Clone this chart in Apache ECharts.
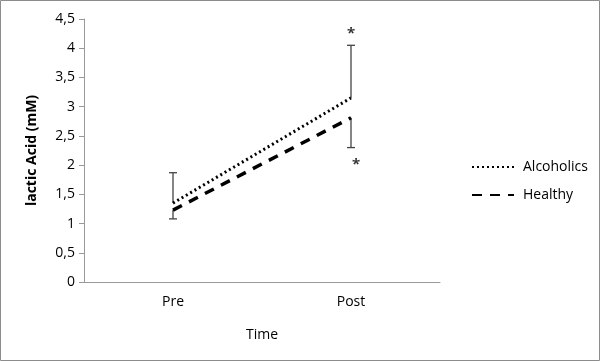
<!DOCTYPE html>
<html>
<head>
<meta charset="utf-8">
<script src="https://cdn.jsdelivr.net/npm/echarts@6/dist/echarts.min.js"></script>
<style>html,body{margin:0;padding:0;background:#fff}#main{width:600px;height:361px}</style>
</head>
<body>
<div id="main"></div>
<script>
// data
var categories = ['Pre', 'Post'];
var alcoholics = [1.35, 3.15];
var healthy = [1.23, 2.81];
// error bars: [category index, from (mean), to (end with cap)]
var alcErr = [[0, 1.35, 1.87], [1, 3.15, 4.05]];
var heaErr = [[0, 1.23, 1.08], [1, 2.81, 2.30]];
var stars = [[1, 4.31], [1, 2.09]];

var myChart = echarts.init(document.getElementById('main'));

function errBar(color) {
	return function (params, api) {
		var p1 = api.coord([api.value(0), api.value(1)]);
		var p2 = api.coord([api.value(0), api.value(2)]);
		return {
			type: 'group',
			children: [{
				type: 'line',
				shape: { x1: p1[0], y1: p1[1], x2: p2[0], y2: p2[1] },
				style: { stroke: color, lineWidth: 1.3 }
			}, {
				type: 'line',
				shape: { x1: p2[0] - 4, y1: p2[1], x2: p2[0] + 4, y2: p2[1] },
				style: { stroke: color, lineWidth: 1.3 }
			}]
		};
	};
}

var font = '"Open Sans", "DejaVu Sans", sans-serif';

var option = {
	animation: false,
	textStyle: { fontFamily: font },
	graphic: [{
		type: 'rect',
		shape: { x: 0.5, y: 0.5, width: 599, height: 360 },
		style: { fill: 'none', stroke: '#8c8c8c', lineWidth: 1 }
	}],
	grid: { left: 84, right: 160, top: 19, bottom: 79 },
	legend: {
		orient: 'vertical',
		left: 466,
		top: 155,
		itemWidth: 42,
		itemHeight: 10,
		itemGap: 14,
		itemStyle: { opacity: 0 },
		textStyle: { fontSize: 14, color: '#000', fontFamily: font, padding: [0, 0, 0, 4] },
		data: ['Alcoholics', 'Healthy']
	},
	xAxis: {
		type: 'category',
		data: categories,
		name: 'Time',
		nameLocation: 'middle',
		nameGap: 46,
		nameTextStyle: { fontSize: 14, color: '#000' },
		axisLine: { lineStyle: { color: '#999' } },
		axisTick: { show: false },
		axisLabel: { fontSize: 14, color: '#000', margin: 13 }
	},
	yAxis: {
		type: 'value',
		min: 0,
		max: 4.5,
		interval: 0.5,
		name: 'lactic Acid (mM)',
		nameLocation: 'middle',
		nameGap: 45,
		nameTextStyle: { fontSize: 14, fontWeight: 'bold', color: '#000' },
		axisLine: { show: true, lineStyle: { color: '#999' } },
		axisTick: { show: true, length: 5, lineStyle: { color: '#999' } },
		splitLine: { show: false },
		axisLabel: {
			fontSize: 14, color: '#000', margin: 9,
			formatter: function (v) { return String(v).replace('.', ','); }
		}
	},
	series: [{
		name: 'Alcoholics',
		type: 'line',
		data: alcoholics,
		symbol: 'none',
		lineStyle: { color: '#000', width: 3, type: [2, 3] },
		itemStyle: { color: '#000' }
	}, {
		name: 'Healthy',
		type: 'line',
		data: healthy,
		symbol: 'none',
		lineStyle: { color: '#000', width: 3.5, type: [10, 8] },
		itemStyle: { color: '#000' }
	}, {
		type: 'custom',
		renderItem: errBar('#444'),
		data: alcErr,
		z: 3
	}, {
		type: 'custom',
		renderItem: errBar('#444'),
		data: heaErr,
		z: 3
	}, {
		type: 'scatter',
		data: [
			{ value: stars[0], label: { offset: [0, 4] } },
			{ value: stars[1], label: { offset: [5, 5] } }
		],
		symbolSize: 0,
		label: {
			show: true,
			formatter: '*',
			position: 'inside',
			fontSize: 15,
			fontWeight: 'bold',
			color: '#000'
		}
	}]
};

myChart.setOption(option);
</script>
</body>
</html>
